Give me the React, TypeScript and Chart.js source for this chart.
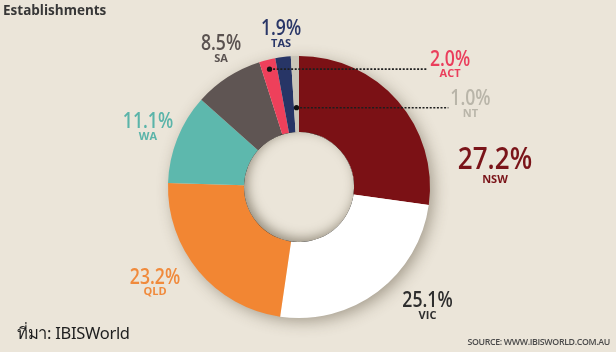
import React, { useEffect, useRef } from "react";
import { Chart, registerables } from "chart.js";

Chart.register(...registerables);

// ---- data ----
const regions: string[] = ["NSW", "VIC", "QLD", "WA", "SA", "ACT", "TAS", "NT"];
const shares: number[] = [27.2, 25.1, 23.2, 11.1, 8.5, 2.0, 1.9, 1.0];
const sliceColors: string[] = ["#7b1115", "#ffffff", "#f28633", "#5db8ad", "#5f5553", "#ee405b", "#273566", "#c9c5b8"];
const labelColors: string[] = ["#7a1419", "#2e2e2e", "#f08a3c", "#5ab4a9", "#5a5250", "#ea3e5c", "#2a3768", "#b9b5a9"];

// ---- label styling (offset from centre in outer-radius units, font size, leader depth) ----
const labelDx: number[] = [1.496, 0.981, -1.099, -1.153, -0.595, 1.153, -0.137, 1.309];
const labelDy: number[] = [-0.206, 0.87, 0.691, -0.496, -1.088, -0.973, -1.206, -0.668];
const labelSize: number[] = [31, 21, 21, 21, 21, 21, 21, 21];
const leaderDepth: (number | null)[] = [null, null, null, null, null, 0.875, null, 0.32];

const BG = "#ebe5d9";
const FONT = "'Open Sans', 'Noto Sans', sans-serif";

const decorPlugin = {
  id: "decor",
  beforeDatasetsDraw(chart: any) {
    const meta = chart.getDatasetMeta(0);
    const a0 = meta.data[0];
    const { x, y, outerRadius } = a0.getProps(["x", "y", "outerRadius"], true);
    const ctx: CanvasRenderingContext2D = chart.ctx;
    ctx.save();
    ctx.beginPath();
    ctx.arc(x, y, outerRadius - 1, 0, Math.PI * 2);
    ctx.fillStyle = BG;
    ctx.shadowColor = "rgba(70,60,40,0.45)";
    ctx.shadowBlur = 16;
    ctx.shadowOffsetX = 4;
    ctx.shadowOffsetY = 4;
    ctx.fill();
    ctx.restore();
  },
  afterDatasetsDraw(chart: any) {
    const meta = chart.getDatasetMeta(0);
    const ctx: CanvasRenderingContext2D = chart.ctx;
    const a0 = meta.data[0];
    const { x, y, outerRadius, innerRadius } = a0.getProps(["x", "y", "outerRadius", "innerRadius"], true);

    // inset shading of the hole
    ctx.save();
    ctx.beginPath();
    ctx.arc(x, y, innerRadius, 0, Math.PI * 2);
    ctx.clip();
    ctx.beginPath();
    ctx.rect(x - 400, y - 400, 800, 800);
    ctx.arc(x, y, innerRadius, 0, Math.PI * 2, true);
    ctx.fillStyle = "#000";
    ctx.shadowColor = "rgba(60,50,30,0.5)";
    ctx.shadowBlur = 12;
    ctx.shadowOffsetX = 3;
    ctx.shadowOffsetY = -3;
    ctx.fill();
    ctx.restore();

    const R = outerRadius;
    regions.forEach((name, i) => {
      const px = x + labelDx[i] * R;
      const py = y + labelDy[i] * R;
      const size = labelSize[i];
      const pct = shares[i].toFixed(1) + "%";
      ctx.save();
      ctx.fillStyle = labelColors[i];
      ctx.textAlign = "center";
      ctx.textBaseline = "middle";
      ctx.font = `600 ${size}px ${FONT}`;
      const squeeze = 0.84;
      const w = ctx.measureText(pct).width * squeeze;
      ctx.save();
      ctx.translate(px, py);
      ctx.scale(squeeze, 1);
      ctx.fillText(pct, 0, 0);
      ctx.restore();
      ctx.font = `700 11px ${FONT}`;
      ctx.fillText(name, px, py + size * 0.55 + 3);
      ctx.restore();

      const depth = leaderDepth[i];
      if (depth !== null) {
        const arc = meta.data[i];
        const p = arc.getProps(["startAngle", "endAngle", "innerRadius", "outerRadius"], true);
        const mid = (p.startAngle + p.endAngle) / 2;
        const r = p.innerRadius + depth * (p.outerRadius - p.innerRadius);
        const dx = x + Math.cos(mid) * r;
        const dy = y + Math.sin(mid) * r;
        const endX = px - w / 2 - 2;
        ctx.save();
        ctx.strokeStyle = "#1e1e1e";
        ctx.lineWidth = 1.6;
        ctx.setLineDash([2, 1.6]);
        ctx.beginPath();
        ctx.moveTo(dx, dy);
        ctx.lineTo(endX, dy);
        ctx.stroke();
        ctx.setLineDash([]);
        ctx.fillStyle = "#111";
        ctx.beginPath();
        ctx.arc(dx, dy, 2.6, 0, Math.PI * 2);
        ctx.fill();
        ctx.restore();
      }
    });
  },
};

export default function App() {
  const canvasRef = useRef<HTMLCanvasElement | null>(null);

  useEffect(() => {
    document.body.style.margin = "0";
    document.body.style.background = BG;
    const canvas = canvasRef.current;
    if (!canvas) return;
    const chart = new Chart(canvas, {
      type: "doughnut",
      data: {
        labels: regions,
        datasets: [
          {
            data: shares,
            backgroundColor: sliceColors,
            borderWidth: 0,
            hoverOffset: 0,
          },
        ],
      },
      options: {
        responsive: false,
        animation: false,
        cutout: "42%",
        rotation: 0,
        layout: { padding: { left: 168, right: 186, top: 56, bottom: 34 } },
        plugins: {
          legend: { display: false },
          tooltip: { enabled: false },
        },
        events: [],
      },
      plugins: [decorPlugin],
    });
    return () => chart.destroy();
  }, []);

  return (
    <div style={{ position: "fixed", left: 0, top: 0, width: 616, height: 352, background: BG, overflow: "hidden" }}>
      <canvas ref={canvasRef} width={616} height={352} style={{ position: "absolute", left: 0, top: 0, width: 616, height: 352 }} />
      <div
        style={{
          position: "absolute",
          left: 3,
          top: 1,
          font: `700 13.5px ${FONT}`,
          lineHeight: "18px",
          color: "#373737",
          whiteSpace: "nowrap",
        }}
      >
        Establishments
      </div>
      <div
        style={{
          position: "absolute",
          left: 17,
          top: 321,
          font: "400 16.5px Tahoma, 'Noto Sans', 'DejaVu Sans', sans-serif",
          lineHeight: "24px",
          color: "#1e1e1e",
          whiteSpace: "nowrap",
          letterSpacing: "-0.3px",
        }}
      >
        ที่มา: IBISWorld
      </div>
      <div
        style={{
          position: "absolute",
          right: 6,
          top: 336,
          font: `600 8.8px ${FONT}`,
          lineHeight: "12px",
          color: "#4a4a4a",
          whiteSpace: "nowrap",
          letterSpacing: "-0.35px",
        }}
      >
        SOURCE: WWW.IBISWORLD.COM.AU
      </div>
    </div>
  );
}
